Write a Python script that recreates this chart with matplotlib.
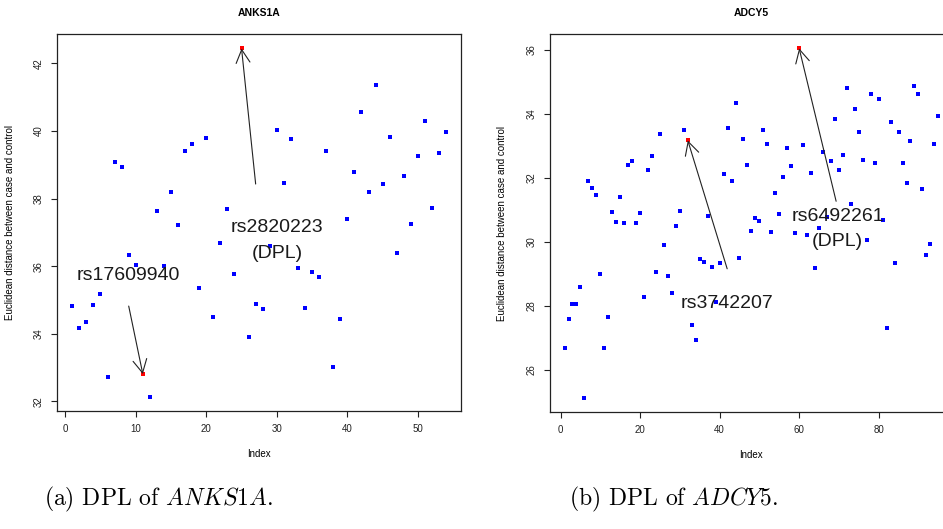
import matplotlib
matplotlib.use("Agg")
import matplotlib.pyplot as plt
import numpy as np

# Euclidean distance between case and control for each SNP
anks1a_values = [34.81, 34.17, 34.35, 34.84, 35.18, 32.71, 39.08, 38.93, 36.33, 36.03,
                 32.81, 32.13, 37.63, 36.00, 38.19, 37.22, 39.41, 39.61, 35.35, 39.79,
                 34.50, 36.68, 37.69, 35.77, 42.44, 33.90, 34.88, 34.73, 36.60, 40.03,
                 38.46, 39.76, 35.94, 34.76, 35.83, 35.68, 39.41, 33.02, 34.44, 37.39,
                 38.78, 40.56, 38.19, 41.36, 38.43, 39.82, 36.39, 38.67, 37.25, 39.26,
                 40.29, 37.72, 39.35, 39.97]
adcy5_values = [26.68, 27.58, 28.06, 28.06, 28.59, 25.12, 31.88, 31.66, 31.47, 29.00,
                26.68, 27.65, 30.91, 30.60, 31.38, 30.57, 32.39, 32.51, 30.57, 30.88,
                28.28, 32.23, 32.67, 29.04, 33.36, 29.88, 28.94, 28.38, 30.48, 30.95,
                33.48, 33.16, 27.38, 26.91, 29.47, 29.35, 30.79, 29.22, 28.10, 29.32,
                32.10, 33.54, 31.88, 34.33, 29.50, 33.20, 32.39, 30.32, 30.73, 30.63,
                33.48, 33.04, 30.29, 31.51, 30.85, 32.01, 32.92, 32.35, 30.26, 36.04,
                33.01, 30.22, 32.14, 29.19, 30.41, 32.79, 30.76, 32.51, 33.83, 32.23,
                32.70, 34.80, 31.18, 34.14, 33.42, 32.54, 30.04, 34.61, 32.45, 34.45,
                30.66, 27.31, 33.73, 29.32, 33.42, 32.45, 31.82, 33.14, 34.86, 34.61,
                31.63, 29.57, 29.94, 33.04, 33.92]

# highlighted SNPs (1-based index), label text, label position and arrow start
# label y is the baseline of the last line of the label
anks1a_marks = [11, 25]
anks1a_labels = ["rs17609940", "rs2820223\n(DPL)"]
anks1a_label_xy = [(8.9, 35.59), (30.0, 36.25)]
anks1a_arrow_from = [(9.0, 34.82), (27.0, 38.43)]

adcy5_marks = [32, 60]
adcy5_labels = ["rs3742207", "rs6492261\n(DPL)"]
adcy5_label_xy = [(41.9, 27.92), (69.7, 29.85)]
adcy5_arrow_from = [(41.9, 29.15), (69.3, 31.26)]

titles = ["ANKS1A", "ADCY5"]
captions = ["(a) DPL of $ANKS1A$.", "(b) DPL of $ADCY5$."]
x_ticks = [np.arange(0, 51, 10), np.arange(0, 81, 20)]
y_ticks = [np.arange(32, 43, 2), np.arange(26, 37, 2)]

plt.rcParams["font.family"] = ["Liberation Sans", "DejaVu Sans"]
plt.rcParams["mathtext.fontset"] = "cm"


def r_limits(v):
    # R pads the data range by 4% on each side
    lo, hi = min(v), max(v)
    pad = 0.04 * (hi - lo)
    return lo - pad, hi + pad


def draw_panel(ax, values, marks, labels, label_xy, arrow_from, title, xt, yt):
    idx = np.arange(1, len(values) + 1)
    vals = np.array(values)
    red = np.isin(idx, marks)
    ax.plot(idx[~red], vals[~red], 's', color='#0000ff', ms=2.3, mew=0)
    ax.plot(idx[red], vals[red], 's', color='#ff0000', ms=2.3, mew=0)
    ax.set_xlim(*r_limits(idx))
    ax.set_ylim(*r_limits(vals))
    ax.set_xticks(xt)
    ax.set_yticks(yt)
    ax.tick_params(direction='out', length=4.5, width=0.8, labelsize=7, pad=5, colors='#222222')
    for lab in ax.get_yticklabels():
        lab.set_rotation(90)
        lab.set_va('center')
    for s in ax.spines.values():
        s.set_linewidth(0.9)
        s.set_color('#222222')
    ax.set_xlabel("Index", fontsize=7, labelpad=11)
    ax.set_ylabel("Euclidean distance between case and control", fontsize=7, labelpad=14)
    ax.set_title(title, fontsize=7.5, fontweight='bold', pad=13)

    for m, lab, (tx, ty), (ax0, ay0) in zip(marks, labels, label_xy, arrow_from):
        ax.text(tx, ty, lab, ha='center', va='baseline', fontsize=14,
                color='#1a1a1a', linespacing=1.65, multialignment='center')
        ax.annotate('', xy=(m, values[m - 1]), xytext=(ax0, ay0),
                    arrowprops=dict(arrowstyle='->,head_length=0.95,head_width=0.5',
                                    mutation_scale=10, lw=0.8, color='#222222',
                                    shrinkA=0, shrinkB=0))


fig = plt.figure(figsize=(9.43, 5.29), dpi=100)
ax1 = fig.add_axes([0.0608, 0.2231, 0.4281, 0.7117])
ax2 = fig.add_axes([0.5828, 0.2217, 0.4281, 0.7134])

draw_panel(ax1, anks1a_values, anks1a_marks, anks1a_labels, anks1a_label_xy,
           anks1a_arrow_from, titles[0], x_ticks[0], y_ticks[0])
draw_panel(ax2, adcy5_values, adcy5_marks, adcy5_labels, adcy5_label_xy,
           adcy5_arrow_from, titles[1], x_ticks[1], y_ticks[1])

# sub-figure captions underneath
fig.text(0.168, 0.045, captions[0], ha='center', va='baseline', fontsize=17,
         family='cmr10')
fig.text(0.714, 0.045, captions[1], ha='center', va='baseline', fontsize=17,
         family='cmr10')

fig.savefig("out.png", dpi=100)
